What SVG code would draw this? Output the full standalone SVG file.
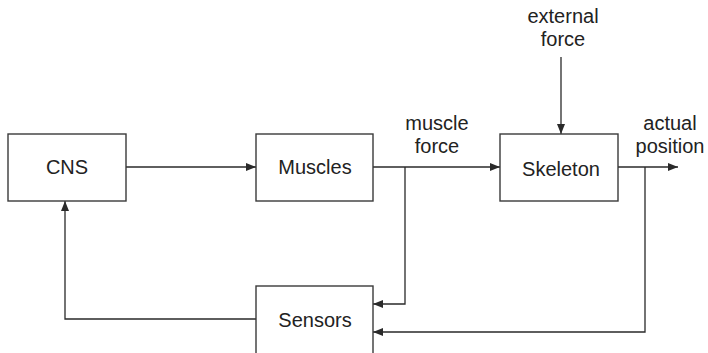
<svg xmlns="http://www.w3.org/2000/svg" width="708" height="353" viewBox="0 0 708 353">
  <style>
    .box { fill: #ffffff; stroke: #3a3a3a; stroke-width: 1.4; }
    .wire { fill: none; stroke: #2a2a2a; stroke-width: 1.3; }
    text { font-family: "Liberation Sans", Arial, sans-serif; font-size: 20px; fill: #222222; text-anchor: middle; }
  </style>
  <defs>
    <marker id="arrow" viewBox="0 0 10 8" refX="10" refY="4" markerWidth="10" markerHeight="8" markerUnits="userSpaceOnUse" orient="auto">
      <path d="M0,0 L10,4 L0,8 z" fill="#2a2a2a"/>
    </marker>
  </defs>
  <rect width="708" height="353" fill="#ffffff"/>

  <g id="connectors">
    <!-- CNS to Muscles -->
    <path class="wire" d="M126,167 H256" marker-end="url(#arrow)"/>
    <!-- Muscles to Skeleton (muscle force) -->
    <path class="wire" d="M373,167 H500" marker-end="url(#arrow)"/>
    <!-- external force into Skeleton -->
    <path class="wire" d="M561,57 V134" marker-end="url(#arrow)"/>
    <!-- actual position output -->
    <path class="wire" d="M618,167 H678" marker-end="url(#arrow)"/>
    <!-- muscle force tap to Sensors -->
    <path class="wire" d="M405,167 V304 H373" marker-end="url(#arrow)"/>
    <!-- position tap to Sensors -->
    <path class="wire" d="M645,167 V332 H373" marker-end="url(#arrow)"/>
    <!-- Sensors feedback to CNS -->
    <path class="wire" d="M256,319 H65 V201" marker-end="url(#arrow)"/>
  </g>

  <g id="cns">
    <rect class="box" x="8" y="134" width="118" height="67"/>
    <text x="67" y="174">CNS</text>
  </g>
  <g id="muscles">
    <rect class="box" x="256" y="134" width="117" height="67"/>
    <text x="315" y="174">Muscles</text>
  </g>
  <g id="skeleton">
    <rect class="box" x="500" y="134" width="118" height="67"/>
    <text x="561" y="176">Skeleton</text>
  </g>
  <g id="sensors">
    <rect class="box" x="256" y="286" width="117" height="72"/>
    <text x="315" y="327">Sensors</text>
  </g>

  <g id="labels">
    <text x="563" y="23">external</text>
    <text x="563" y="46">force</text>
    <text x="437" y="130">muscle</text>
    <text x="437" y="153">force</text>
    <text x="670" y="130">actual</text>
    <text x="670" y="153">position</text>
  </g>
</svg>
